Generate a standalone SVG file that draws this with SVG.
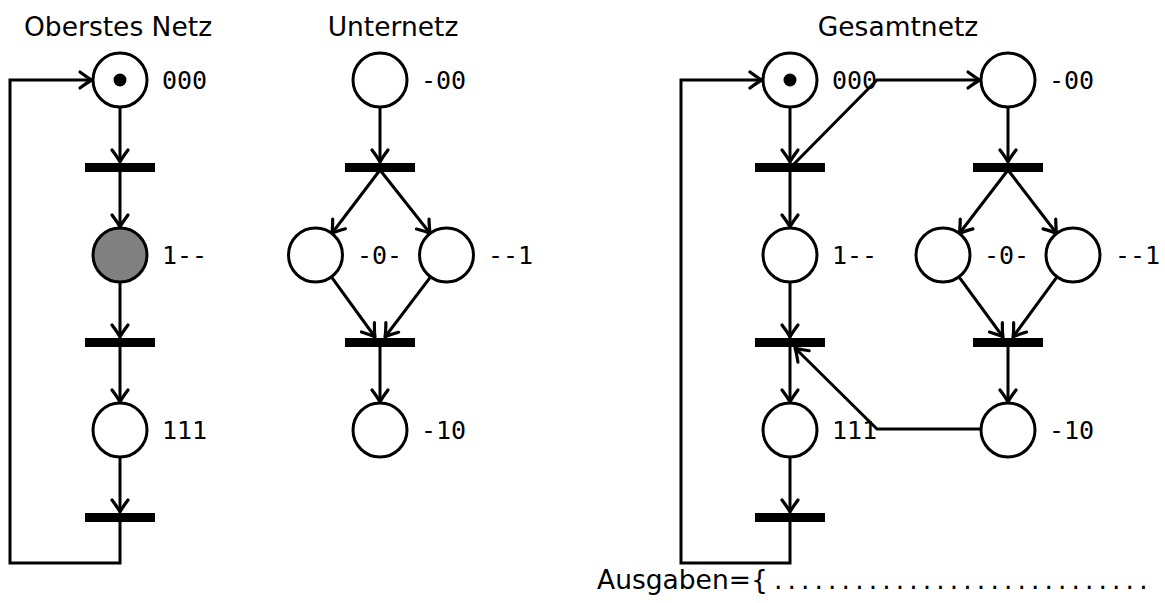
<svg xmlns="http://www.w3.org/2000/svg" width="1165" height="603" viewBox="0 0 1165 603">
<style>
.pl{fill:#fff;stroke:#000;stroke-width:3}
.tr{fill:#000}
.ar{fill:none;stroke:#000;stroke-width:3;marker-end:url(#ah)}
.lb{font-family:"DejaVu Sans Mono","Liberation Mono",monospace;font-size:25px;fill:#000}
.tt{font-family:"DejaVu Sans","Liberation Sans",sans-serif;font-size:26.5px;fill:#000}
</style>
<defs>
<marker id="ah" markerUnits="userSpaceOnUse" viewBox="-16 -11 20 22" refX="0" refY="0" markerWidth="20" markerHeight="22" orient="auto">
<path d="M -12 -8 Q -4 -2 0 0 Q -4 2 -12 8" fill="none" stroke="#000" stroke-width="3.2" stroke-linecap="round" stroke-linejoin="round"/>
</marker>
</defs>
<rect width="1165" height="603" fill="#fff"/>

<text class="tt" x="24" y="36">Oberstes Netz</text>
<text class="tt" x="393" y="36" text-anchor="middle">Unternetz</text>
<text class="tt" x="898" y="36" text-anchor="middle">Gesamtnetz</text>

<g id="connectors">
<!-- left net -->
<line class="ar" x1="120" y1="107" x2="120" y2="162"/>
<line class="ar" x1="120" y1="172" x2="120" y2="227"/>
<line class="ar" x1="120" y1="282" x2="120" y2="337"/>
<line class="ar" x1="120" y1="347" x2="120" y2="402"/>
<line class="ar" x1="120" y1="457" x2="120" y2="512"/>
<path class="ar" d="M 120 522 V 563 H 10 V 80 H 92"/>
<!-- middle net -->
<line class="ar" x1="380" y1="107" x2="380" y2="162"/>
<line class="ar" x1="380" y1="170" x2="331.8" y2="233.5"/>
<line class="ar" x1="380" y1="170" x2="430.2" y2="233.5"/>
<line class="ar" x1="331.4" y1="276.8" x2="375" y2="337"/>
<line class="ar" x1="430.6" y1="276.8" x2="385" y2="337"/>
<line class="ar" x1="380" y1="347" x2="380" y2="402"/>
<!-- right net, top column -->
<line class="ar" x1="790" y1="107" x2="790" y2="162"/>
<line class="ar" x1="790" y1="172" x2="790" y2="227"/>
<line class="ar" x1="790" y1="282" x2="790" y2="337"/>
<line class="ar" x1="790" y1="347" x2="790" y2="402"/>
<line class="ar" x1="790" y1="457" x2="790" y2="512"/>
<path class="ar" d="M 790 522 V 563 H 681 V 80 H 762"/>
<!-- right net, sub column -->
<line class="ar" x1="1008" y1="107" x2="1008" y2="162"/>
<line class="ar" x1="1008" y1="170" x2="959.3" y2="233.5"/>
<line class="ar" x1="1008" y1="170" x2="1056.7" y2="233.5"/>
<line class="ar" x1="959" y1="276.8" x2="1003" y2="337"/>
<line class="ar" x1="1057" y1="276.8" x2="1013" y2="337"/>
<line class="ar" x1="1008" y1="347" x2="1008" y2="402"/>
<!-- coupling arcs -->
<path class="ar" d="M 793 165 L 877 80 H 980"/>
<path class="ar" d="M 981 429 H 877 L 795 348"/>
</g>

<!-- left net -->
<g id="L_p000"><circle class="pl" cx="120" cy="80" r="27"/><circle cx="120" cy="80" r="6.5"/><text class="lb" x="162" y="89">000</text></g>
<g id="L_t0"><rect class="tr" x="85" y="163" width="70" height="9"/></g>
<g id="L_p1"><circle class="pl" cx="120" cy="255" r="27" style="fill:#808080"/><text class="lb" x="162" y="264">1--</text></g>
<g id="L_t1"><rect class="tr" x="85" y="338" width="70" height="9"/></g>
<g id="L_p111"><circle class="pl" cx="120" cy="430" r="27"/><text class="lb" x="162" y="439">111</text></g>
<g id="L_t2"><rect class="tr" x="85" y="513" width="70" height="9"/></g>

<!-- middle net -->
<g id="M_p00"><circle class="pl" cx="380" cy="80" r="27"/><text class="lb" x="421" y="89">-00</text></g>
<g id="M_t0"><rect class="tr" x="345" y="163" width="70" height="9"/></g>
<g id="M_p0"><circle class="pl" cx="315.5" cy="255" r="27"/><text class="lb" x="357" y="264">-0-</text></g>
<g id="M_p1"><circle class="pl" cx="446.5" cy="255" r="27"/><text class="lb" x="488" y="264">--1</text></g>
<g id="M_t1"><rect class="tr" x="345" y="338" width="70" height="9"/></g>
<g id="M_p10"><circle class="pl" cx="380" cy="430" r="27"/><text class="lb" x="421" y="439">-10</text></g>

<!-- right net -->
<g id="R_p000"><circle class="pl" cx="790" cy="80" r="27"/><circle cx="790" cy="80" r="6.5"/><text class="lb" x="832" y="89">000</text></g>
<g id="R_t0"><rect class="tr" x="755" y="163" width="70" height="9"/></g>
<g id="R_p1"><circle class="pl" cx="790" cy="255" r="27"/><text class="lb" x="832" y="264">1--</text></g>
<g id="R_t1"><rect class="tr" x="755" y="338" width="70" height="9"/></g>
<g id="R_p111"><circle class="pl" cx="790" cy="430" r="27"/><text class="lb" x="832" y="439">111</text></g>
<g id="R_t2"><rect class="tr" x="755" y="513" width="70" height="9"/></g>

<g id="R_p00"><circle class="pl" cx="1008" cy="80" r="27"/><text class="lb" x="1049" y="89">-00</text></g>
<g id="R_ts0"><rect class="tr" x="973" y="163" width="70" height="9"/></g>
<g id="R_p0"><circle class="pl" cx="943" cy="255" r="27"/><text class="lb" x="984" y="264">-0-</text></g>
<g id="R_pd1"><circle class="pl" cx="1073" cy="255" r="27"/><text class="lb" x="1115" y="264">--1</text></g>
<g id="R_ts1"><rect class="tr" x="973" y="338" width="70" height="9"/></g>
<g id="R_p10"><circle class="pl" cx="1008" cy="430" r="27"/><text class="lb" x="1049" y="439">-10</text></g>

<g id="ausgaben"><text class="tt" x="597" y="589">Ausgaben={<tspan x="774" letter-spacing="5.1">............................</tspan></text></g>
</svg>
